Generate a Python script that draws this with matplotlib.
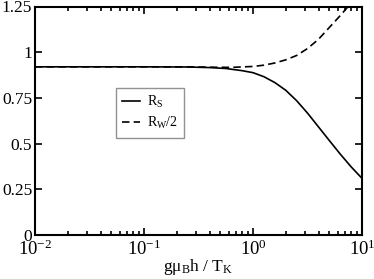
import matplotlib
matplotlib.use('Agg')
import numpy as np
from matplotlib import pyplot as plt
from matplotlib.ticker import FixedLocator, LogLocator, NullFormatter

plt.rcParams['font.family'] = 'Liberation Serif'
plt.rcParams['mathtext.fontset'] = 'custom'
plt.rcParams['mathtext.rm'] = 'Liberation Serif'
plt.rcParams['mathtext.it'] = 'Liberation Serif:italic'

# values (x given as log10)
logx_s = [-2.0, -1.0, -0.6, -0.4, -0.25, -0.1, 0.0, 0.1, 0.2, 0.3, 0.4, 0.5, 0.6, 0.7, 0.8, 0.9, 1.0]
r_s = [0.92, 0.92, 0.919, 0.916, 0.911, 0.899, 0.888, 0.866, 0.834, 0.792, 0.735, 0.667, 0.592, 0.517, 0.443, 0.373, 0.31]

logx_w = [-2.0, -1.0, -0.6, -0.4, -0.2, 0.0, 0.1, 0.2, 0.3, 0.4, 0.5, 0.6, 0.7, 0.8, 0.88]
r_w = [0.92, 0.92, 0.92, 0.918, 0.917, 0.922, 0.929, 0.941, 0.958, 0.982, 1.02, 1.07, 1.135, 1.2, 1.255]

y_ticks = [0, 0.25, 0.5, 0.75, 1.0, 1.25]
y_labels = ['0', '0.25', '0.5', '0.75', '1', '1.25']

fig = plt.figure(figsize=(3.74, 2.79), dpi=100)
ax = fig.add_axes([35 / 374, 44 / 279, 327 / 374, 228.5 / 279])

ax.plot(10 ** np.array(logx_s), r_s, color='black', lw=1.2, label=r'R$_\mathrm{S}$')
ax.plot(10 ** np.array(logx_w), r_w, color='black', lw=1.2, ls=(0, (4.5, 2.5)),
        label=r'R$_\mathrm{W}$/2')

ax.set_xscale('log')
ax.set_xlim(1e-2, 1e1)
ax.set_ylim(0, 1.25)
ax.yaxis.set_major_locator(FixedLocator(y_ticks))
ax.set_yticklabels(y_labels)
ax.xaxis.set_minor_locator(LogLocator(base=10, subs=np.arange(2, 10)))
ax.xaxis.set_minor_formatter(NullFormatter())

for s in ax.spines.values():
    s.set_linewidth(1.5)
ax.tick_params(which='both', direction='in', top=True, right=True, width=1.2)
ax.tick_params(which='major', length=5)
ax.tick_params(which='minor', length=3)
ax.tick_params(axis='y', pad=2, labelsize=12.5)
ax.tick_params(axis='x', pad=3, labelsize=13.5)

ax.set_xlabel(r'gμ$_\mathrm{B}$h / T$_\mathrm{K}$', fontsize=12.5, labelpad=-1)

leg = ax.legend(loc='upper left', bbox_to_anchor=(81 / 327, 1 - 81.5 / 228.5), fontsize=10,
                frameon=True, fancybox=False, handlelength=1.3, handletextpad=0.5,
                borderpad=0.45, labelspacing=0.35, borderaxespad=0)
leg.get_frame().set_edgecolor('#777777')
leg.get_frame().set_linewidth(1.0)

plt.savefig('out.png', dpi=100)
plt.close()
